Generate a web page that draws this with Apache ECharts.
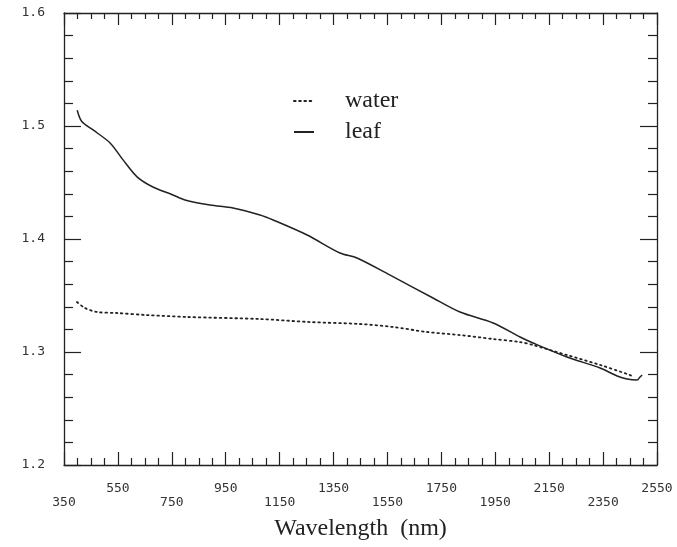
<!DOCTYPE html>
<html>
<head>
<meta charset="utf-8">
<title></title>
<script src="https://cdn.jsdelivr.net/npm/echarts@6/dist/echarts.min.js"></script>
<style>
  html, body { margin: 0; padding: 0; background: #fff; }
</style>
</head>
<body>
<div id="main" style="width: 677px;height:547px;"></div>
<script type="text/javascript">
    // wavelength (nm) / value
    var leafNm  = [399, 416, 458, 521, 569, 621, 680, 754, 799, 892, 977, 1077, 1126, 1252, 1374, 1437, 1560, 1719, 1819, 1942, 2042, 2090, 2216, 2339, 2402, 2439, 2476, 2487, 2495]
    var leafVal = [1.514, 1.504, 1.4965, 1.485, 1.470, 1.455, 1.446, 1.439, 1.4345, 1.430, 1.4274, 1.4212, 1.4168, 1.4035, 1.3876, 1.3832, 1.368, 1.3478, 1.3354, 1.3257, 1.3133, 1.308, 1.2956, 1.2858, 1.2788, 1.2761, 1.2752, 1.2779, 1.2796]
    var waterNm  = [398, 428, 472, 547, 658, 806, 1077, 1263, 1448, 1571, 1697, 1819, 1942, 2042, 2090, 2216, 2339, 2450, 2461]
    var waterVal = [1.3442, 1.3389, 1.3354, 1.3345, 1.3327, 1.3310, 1.3292, 1.3265, 1.3248, 1.3221, 1.3177, 1.3150, 1.3115, 1.3088, 1.3062, 1.2973, 1.2885, 1.2796, 1.2779]

    var xMin = 350, xMax = 2550, xStep = 200
    var yMin = 1.2, yMax = 1.6, yStep = 0.1

    var pairs = function(xs, ys) {
        var out = []
        for (var i = 0; i < xs.length; i++) {
            out.push([xs[i], ys[i]])
        }
        return out
    }

    var ink = '#222'
    var mono = '"DejaVu Sans Mono", monospace'
    var serif = '"Liberation Serif", "DejaVu Serif", serif'

    // frame axes without labels (top / right)
    var plainX = {
        type: 'value', min: xMin, max: xMax, interval: xStep, position: 'top',
        axisLine: { show: true, lineStyle: { color: ink, width: 1.3 } },
        axisTick: { show: true, inside: true, length: 12, lineStyle: { color: ink, width: 1.2 } },
        minorTick: { show: true, splitNumber: 4, length: 6, lineStyle: { color: ink, width: 1.2 } },
        axisLabel: { show: false }, splitLine: { show: false }
    }
    var plainY = {
        type: 'value', min: yMin, max: yMax, interval: yStep, position: 'right',
        axisLine: { show: true, lineStyle: { color: ink, width: 1.3 } },
        axisTick: { show: true, inside: true, length: 17, lineStyle: { color: ink, width: 1.2 } },
        minorTick: { show: true, splitNumber: 5, length: 9, lineStyle: { color: ink, width: 1.2 } },
        axisLabel: { show: false }, splitLine: { show: false }
    }

    var myChart = echarts.init(document.getElementById('main'))
    var option = {
        backgroundColor: '#fff',
        animation: false,
        grid: { left: 64, right: 20, top: 13, bottom: 82 },
        legend: {
            orient: 'vertical',
            left: 288, top: 84,
            itemWidth: 20, itemHeight: 10, itemGap: 7,
            data: ['water', 'leaf'],
            itemStyle: { opacity: 0 },
            textStyle: { fontFamily: serif, fontSize: 24, color: ink, padding: [0, 0, 0, 26] }
        },
        xAxis: [{
            type: 'value', min: xMin, max: xMax, interval: xStep, position: 'bottom',
            name: 'Wavelength  (nm)', nameLocation: 'middle', nameGap: 52,
            nameTextStyle: { fontFamily: serif, fontSize: 24, color: ink },
            axisLine: { show: true, lineStyle: { color: ink, width: 1.3 } },
            axisTick: { show: true, inside: true, length: 13, lineStyle: { color: ink, width: 1.2 } },
            minorTick: { show: true, splitNumber: 4, length: 7, lineStyle: { color: ink, width: 1.2 } },
            axisLabel: {
                margin: 17, fontFamily: mono, fontSize: 13, color: '#333', lineHeight: 14,
                formatter: function(v) {
                    var k = Math.round((v - xMin) / xStep)
                    return k % 2 === 1 ? v + '\n' : '\n' + v
                }
            },
            splitLine: { show: false }
        }, plainX],
        yAxis: [{
            type: 'value', min: yMin, max: yMax, interval: yStep, position: 'left',
            axisLine: { show: true, lineStyle: { color: ink, width: 1.3 } },
            axisTick: { show: true, inside: true, length: 17, lineStyle: { color: ink, width: 1.2 } },
            minorTick: { show: true, splitNumber: 5, length: 9, lineStyle: { color: ink, width: 1.2 } },
            axisLabel: {
                margin: 19, fontFamily: mono, fontSize: 13, color: '#333',
                formatter: function(v) { return v.toFixed(1) }
            },
            splitLine: { show: false }
        }, plainY],
        series: [{
            name: 'water',
            type: 'line',
            data: pairs(waterNm, waterVal),
            symbol: 'none',
            smooth: 0.3,
            color: ink,
            lineStyle: { color: ink, width: 1.8, type: [1.6, 3.6], cap: 'round' }
        }, {
            name: 'leaf',
            type: 'line',
            data: pairs(leafNm, leafVal),
            symbol: 'none',
            smooth: 0.3,
            color: ink,
            lineStyle: { color: ink, width: 1.5 }
        }]
    }
    myChart.setOption(option)
</script>
</body>
</html>
